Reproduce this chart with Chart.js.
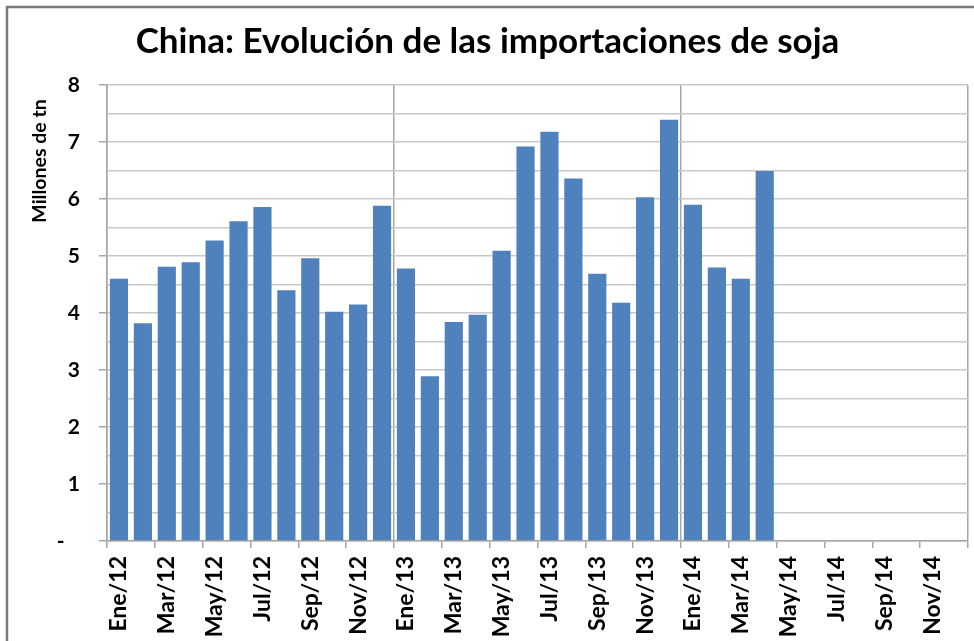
<!DOCTYPE html>
<html>
<head>
<meta charset="utf-8">
<script src="https://cdn.jsdelivr.net/npm/chart.js@4.4.1/dist/chart.umd.min.js"></script>
<style>
  html, body { margin: 0; padding: 0; background: #fff; }
  #grafico { display: block; }
</style>
</head>
<body>
<canvas id="grafico" width="974" height="641"></canvas>
<script>
// -------------------------------
// DATOS
// -------------------------------
const meses = [
  "Ene/12", "Feb/12", "Mar/12", "Abr/12", "May/12", "Jun/12", "Jul/12", "Ago/12", "Sep/12", "Oct/12", "Nov/12", "Dic/12",
  "Ene/13", "Feb/13", "Mar/13", "Abr/13", "May/13", "Jun/13", "Jul/13", "Ago/13", "Sep/13", "Oct/13", "Nov/13", "Dic/13",
  "Ene/14", "Feb/14", "Mar/14", "Abr/14", "May/14", "Jun/14", "Jul/14", "Ago/14", "Sep/14", "Oct/14", "Nov/14", "Dic/14"
];

// millones de toneladas (sin dato desde May/14)
const importaciones = [
  4.60, 3.82, 4.81, 4.89, 5.27, 5.61, 5.86, 4.40, 4.96, 4.02, 4.15, 5.88,
  4.78, 2.89, 3.84, 3.97, 5.09, 6.92, 7.18, 6.36, 4.69, 4.18, 6.03, 7.39,
  5.90, 4.80, 4.60, 6.49, null, null, null, null, null, null, null, null
];

const titulo = "China: Evolución de las importaciones de soja";
const tituloEje = "Millones de tn";

const FUENTE = "Lato, 'Liberation Sans', sans-serif";
const GRIS_GRILLA = "#c9c9c9";
const GRIS_EJE = "#a6a6a6";

// -------------------------------
// EXTRAS: marco y título del eje Y
// -------------------------------
const extras = {
  id: "extras",
  afterDraw(chart) {
    const ctx = chart.ctx;
    ctx.save();
    // marco del gráfico (solo arriba e izquierda visibles)
    ctx.strokeStyle = "#7a7a7a";
    ctx.lineWidth = 2.5;
    ctx.beginPath();
    ctx.moveTo(7, 641);
    ctx.lineTo(7, 7);
    ctx.lineTo(974, 7);
    ctx.stroke();

    // título del eje Y
    ctx.translate(40, 161);
    ctx.rotate(-Math.PI / 2);
    ctx.fillStyle = "#000";
    ctx.font = "bold 19.5px " + FUENTE;
    ctx.textAlign = "center";
    ctx.textBaseline = "middle";
    ctx.fillText(tituloEje, 0, 0);
    ctx.restore();
  }
};

// -------------------------------
// GRÁFICO
// -------------------------------
new Chart(document.getElementById("grafico"), {
  type: "bar",
  data: {
    labels: meses,
    datasets: [{
      data: importaciones,
      backgroundColor: "#4f81bd",
      borderWidth: 0,
      barPercentage: 0.76,
      categoryPercentage: 1
    }]
  },
  options: {
    responsive: false,
    animation: false,
    layout: { padding: { left: 7, right: 6, top: 0, bottom: 0 } },
    plugins: {
      legend: { display: false },
      tooltip: { enabled: false },
      title: {
        display: true,
        text: titulo,
        color: "#000",
        font: { family: FUENTE, size: 35, weight: "bold", lineHeight: 1.2 },
        padding: { top: 21, bottom: 22 }
      }
    },
    scales: {
      x: {
        offset: true,
        grid: {
          offset: true,
          color: c => (c.index === undefined || c.index % 12 === 0) ? GRIS_EJE : "transparent",
          tickColor: c => (c.index === undefined || c.index % 2 === 0) ? GRIS_EJE : "transparent",
          lineWidth: 1.5,
          tickLength: 7
        },
        border: { color: GRIS_EJE, width: 1.5 },
        ticks: {
          autoSkip: false,
          minRotation: 90,
          maxRotation: 90,
          padding: 8,
          color: "#000",
          font: { family: FUENTE, size: 23, weight: "bold" },
          callback: (v, i) => i % 2 === 0 ? meses[i] : ""
        },
        afterFit: s => { s.height = 100; s.paddingLeft = 0; s.paddingRight = 0; }
      },
      y: {
        min: 0,
        max: 8,
        grid: {
          color: GRIS_GRILLA,
          lineWidth: 1.5,
          tickLength: 8,
          tickColor: c => (c.tick && Number.isInteger(c.tick.value)) ? GRIS_EJE : "transparent"
        },
        border: { color: GRIS_EJE, width: 1.5 },
        ticks: {
          stepSize: 0.5,
          padding: 19,
          color: "#000",
          font: { family: FUENTE, size: 21, weight: "bold" },
          callback: v => v === 0 ? "-   " : (Number.isInteger(v) ? String(v) : "")
        },
        afterFit: s => { s.width = 100; }
      }
    }
  },
  plugins: [extras]
});
</script>
</body>
</html>
